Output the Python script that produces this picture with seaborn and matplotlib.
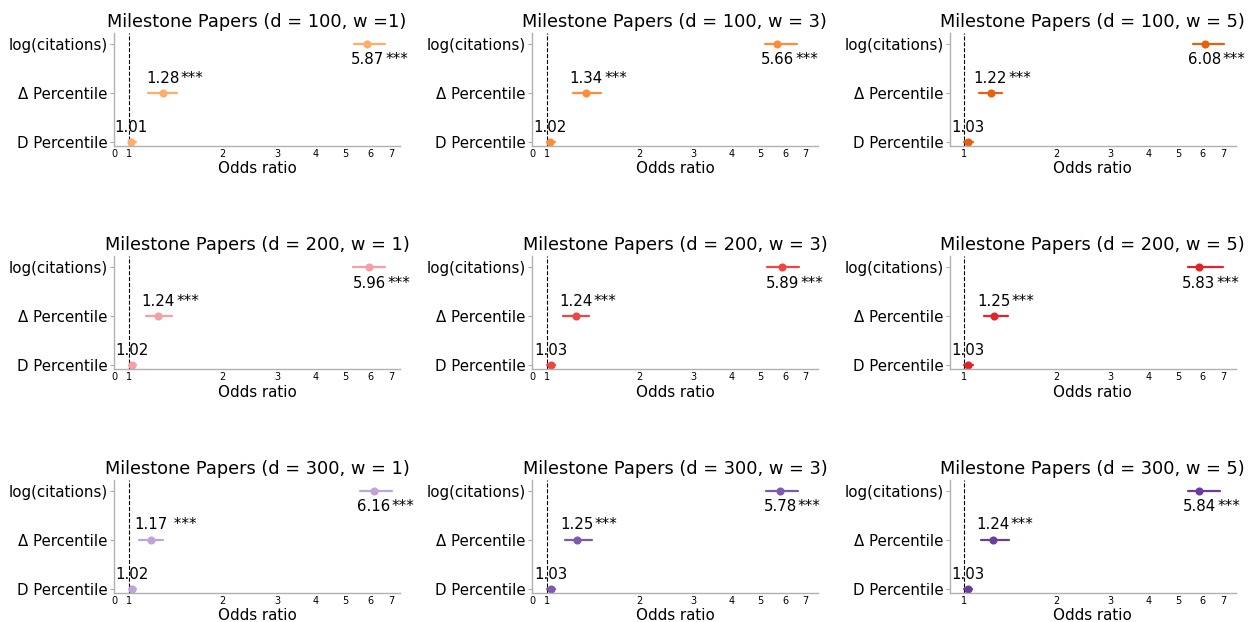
import numpy as np
import pandas as pd
import matplotlib.pyplot as plt
from matplotlib.ticker import NullLocator
import seaborn as sns

sns.set_theme(style="ticks")
plt.rcParams['font.family'] = ['DejaVu Sans']
plt.rcParams['text.color'] = 'black'
plt.rcParams['axes.labelcolor'] = 'black'
plt.rcParams['axes.titlecolor'] = 'black'
plt.rcParams['xtick.labelcolor'] = 'black'
plt.rcParams['ytick.labelcolor'] = 'black'

features = ['log(citations)', 'Δ Percentile', 'D Percentile']
d_values = [100, 200, 300]
w_values = [1, 3, 5]
titles = [
    ["Milestone Papers (d = 100, w =1)", "Milestone Papers (d = 100, w = 3)", "Milestone Papers (d = 100, w = 5)"],
    ["Milestone Papers (d = 200, w = 1)", "Milestone Papers (d = 200, w = 3)", "Milestone Papers (d = 200, w = 5)"],
    ["Milestone Papers (d = 300, w = 1)", "Milestone Papers (d = 300, w = 3)", "Milestone Papers (d = 300, w = 5)"],
]

# odds ratios per w (rows: w=1,3,5; cols: features)
odds_d100 = [[5.87, 1.28, 1.01], [5.66, 1.34, 1.02], [6.08, 1.22, 1.03]]
low_d100 = [[5.31, 1.15, 0.98], [5.16, 1.21, 0.99], [5.58, 1.12, 1.00]]
high_d100 = [[6.70, 1.42, 1.05], [6.55, 1.50, 1.06], [7.06, 1.33, 1.07]]

odds_d200 = [[5.96, 1.24, 1.02], [5.89, 1.24, 1.03], [5.83, 1.25, 1.03]]
low_d200 = [[5.30, 1.13, 0.99], [5.25, 1.13, 1.00], [5.39, 1.16, 1.00]]
high_d200 = [[6.68, 1.37, 1.05], [6.65, 1.37, 1.06], [6.96, 1.39, 1.07]]

odds_d300 = [[6.16, 1.17, 1.02], [5.78, 1.25, 1.03], [5.84, 1.24, 1.03]]
low_d300 = [[5.57, 1.07, 0.99], [5.20, 1.14, 1.00], [5.39, 1.14, 1.00]]
high_d300 = [[7.07, 1.28, 1.05], [6.60, 1.40, 1.06], [6.85, 1.40, 1.06]]

stars = ['***', '***', '']

colors = [
    ['#fdae6b', '#fd8d3c', '#e6600f'],
    ['#f6a0a6', '#ef4545', '#e0242a'],
    ['#bea5d7', '#7c5bab', '#6a3d9a'],
]

odds_all = [odds_d100, odds_d200, odds_d300]
low_all = [low_d100, low_d200, low_d300]
high_all = [high_d100, high_d200, high_d300]

col_xlims = [(-0.05, 7.5), (-0.05, 7.7), (0.03, 7.7)]
col_ticks = [list(range(8)), list(range(8)), list(range(1, 8))]

fig, axes = plt.subplots(3, 3, figsize=(12.51, 6.22), dpi=100)
fig.subplots_adjust(left=0.091, right=0.988, top=0.947, bottom=0.047,
                    wspace=0.46, hspace=0.98)

for i, d in enumerate(d_values):
    for j, w in enumerate(w_values):
        ax = axes[i, j]
        est = odds_all[i][j]
        lo = low_all[i][j]
        hi = high_all[i][j]

        # median of (lo, est, hi) gives the estimate, full interval gives the CI
        df = pd.DataFrame({'feature': features * 3, 'value': lo + est + hi})
        sns.pointplot(data=df, x='value', y='feature', order=features,
                      estimator='median', errorbar=('pi', 100),
                      color=colors[i][j], marker='o', linestyle='none',
                      markersize=3.8, err_kws={'linewidth': 1.6}, ax=ax)

        ax.axvline(1, color='black', linestyle='--', linewidth=0.8, zorder=0)

        ax.set_xscale('symlog', base=np.e, linthresh=1, linscale=0.07)
        ax.set_xlim(*col_xlims[j])
        ax.set_xticks(col_ticks[j])
        ax.set_xticklabels([str(t) for t in col_ticks[j]])
        ax.xaxis.set_minor_locator(NullLocator())
        ax.set_ylim(2.08, -0.22)

        for k in range(len(features)):
            if k == 0:
                ty = k + 0.42
            else:
                ty = k - 0.21
            t = ax.text(est[k], ty, f"{est[k]:.2f}", ha='center', va='baseline',
                        fontsize=10.8)
            star = stars[k]
            if d == 300 and w == 1 and k == 1:
                star = ' ' + star
            if star:
                ax.annotate(star, xy=(1, 0), xycoords=t, xytext=(1, 0),
                            textcoords='offset points', ha='left', va='bottom',
                            fontsize=10.8)

        ax.set_title(titles[i][j], fontsize=12.8, pad=4.5)
        ax.set_xlabel("Odds ratio", fontsize=10.9, labelpad=2)
        ax.set_ylabel("")
        ax.tick_params(axis='x', length=0, pad=2, labelsize=7)
        ax.tick_params(axis='y', length=3, width=0.8, color='#aaaaaa', pad=1.5,
                       labelsize=10.8)
        for side in ['top', 'right']:
            ax.spines[side].set_visible(False)
        for side in ['left', 'bottom']:
            ax.spines[side].set_color('#b0b0b0')
            ax.spines[side].set_linewidth(1.0)

plt.savefig("out.png", dpi=100)
plt.close()
